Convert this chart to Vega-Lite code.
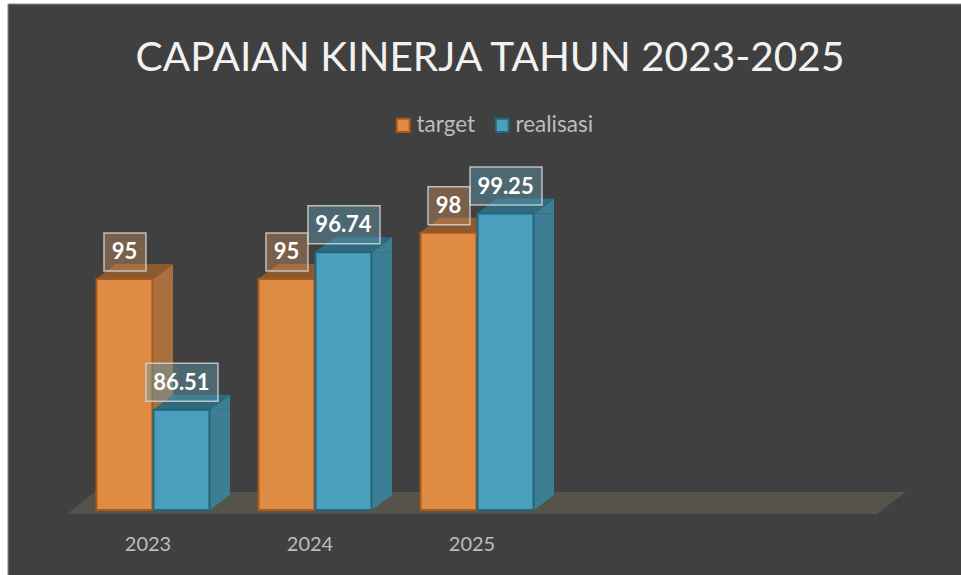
{
"$schema":"https://vega.github.io/schema/vega-lite/v6.json",
"width":810,"height":308,
"autosize":{"type":"none"},
"padding":{"left":72,"top":202,"right":79,"bottom":65},
"background":"white",
"title":{"text":"CAPAIAN KINERJA TAHUN 2023-2025","font":"Lato","fontSize":40.6,"fontWeight":"normal","color":"#f2f2f2","anchor":"middle","frame":"group","dx":13,"offset":-110,"baseline":"alphabetic","zindex":2},
"config":{"view":{"stroke":null},"font":"Lato"},
"layer":[
{"data":{"values":[{"part":"panel"}]},
 "mark":{"type":"point","filled":true,"opacity":1,"size":4,"fill":"#404040","stroke":"#8c8c8c","strokeWidth":1,"shape":"M-145 -506L809 -506L809 66L-145 66Z"},
 "encoding":{"x":{"datum":"2023","type":"nominal","scale":{"type":"band","domain":["2023","2024","2025","2026","2027"],"paddingInner":0.2963,"paddingOuter":0.148},
   "axis":{"values":["2023","2024","2025"],"title":null,"domain":false,"ticks":false,"grid":false,"zindex":2,"labelAngle":0,"labelPadding":24,"labelOffset":-5,"labelFont":"Lato","labelFontSize":20,"labelColor":"#bdbdbd"}},
 "y":{"datum":80,"type":"quantitative","scale":{"domain":[80,100],"nice":false,"zero":false},"axis":null}}},
{"data":{"values":[{"part":"floor"}]},
 "mark":{"type":"point","filled":true,"opacity":1,"size":4,"fill":"#56534b","shape":"M-86 4L724 4L753 -18L-58 -18Z"},
 "encoding":{"x":{"datum":"2023","type":"nominal","scale":{"type":"band","domain":["2023","2024","2025","2026","2027"],"paddingInner":0.2963,"paddingOuter":0.148}},
 "y":{"datum":80,"type":"quantitative","scale":{"domain":[80,100],"nice":false,"zero":false},"axis":null}}},
{"data":{"values":[
{"year":"2023","series":"target","value":95},
{"year":"2023","series":"realisasi","value":86.51},
{"year":"2024","series":"target","value":95},
{"year":"2024","series":"realisasi","value":96.74},
{"year":"2025","series":"target","value":98},
{"year":"2025","series":"realisasi","value":99.25}]},
 "encoding":{
 "x":{"field":"year","type":"nominal","title":null,"scale":{"type":"band","domain":["2023","2024","2025","2026","2027"],"paddingInner":0.2963,"paddingOuter":0.148}},
 "xOffset":{"field":"series","type":"nominal","scale":{"domain":["target","realisasi"],"paddingInner":0,"paddingOuter":0}},
 "y":{"field":"value","type":"quantitative","title":null,"scale":{"domain":[80,100],"nice":false,"zero":false},"axis":null}},
 "layer":[
 {"transform":[{"filter":"datum.series==='target'"}],"mark":{"type":"rule","strokeWidth":20,"color":"#a96f3e"},
  "encoding":{"y2":{"datum":80.97},"xOffset":{"value":67}}},
 {"transform":[{"filter":"datum.series==='realisasi'"}],"mark":{"type":"rule","strokeWidth":20,"color":"#3c7f95"},
  "encoding":{"y2":{"datum":80.97},"xOffset":{"value":124}}},
 {"mark":{"type":"point","filled":true,"opacity":1,"size":4,"shape":"M28.5 0L48.5 -15L48.5 0Z"},
  "encoding":{"fill":{"condition":{"test":"datum.series==='target'","value":"#a96f3e"},"value":"#3c7f95"}}},
 {"mark":{"type":"point","filled":true,"opacity":1,"size":4,"shape":"M28.5 0L48.5 -15L28.5 -15Z"},
  "encoding":{"y":{"datum":80,"type":"quantitative"},"fill":{"condition":{"test":"datum.series==='target'","value":"#a96f3e"},"value":"#3c7f95"}}},
 {"mark":{"type":"point","filled":true,"opacity":1,"size":4,"shape":"M-28.5 0L-8.5 -15L48.5 -15L28.5 0Z"},
  "encoding":{"fill":{"condition":{"test":"datum.series==='target'","value":"#8c5a2f"},"value":"#2f6a7e"}}},
 {"mark":{"type":"bar","size":56,"strokeWidth":2},
  "encoding":{"y2":{"datum":80},
   "fill":{"field":"series","type":"nominal","title":null,"scale":{"domain":["target","realisasi"],"range":["#e08b43","#4a9fbc"]},
     "legend":{"orient":"none","legendX":320,"legendY":-88,"direction":"horizontal","symbolType":"square","symbolSize":170,"symbolStrokeWidth":2,"labelFont":"Lato","labelFontSize":22.5,"labelColor":"#bdbdbd","labelOffset":2,"columnPadding":15,"title":null}},
   "stroke":{"field":"series","type":"nominal","title":null,"scale":{"domain":["target","realisasi"],"range":["#a85a1c","#24657a"]}}}},
 {"transform":[{"filter":{"field":"value","oneOf":[95,98]}}],
  "mark":{"type":"point","filled":true,"opacity":1,"size":4,"fillOpacity":0.42,"strokeWidth":1.5,"strokeOpacity":0.8,"shape":"M-20.5 -46L21.5 -46L21.5 -8L-20.5 -8Z"},
  "encoding":{"fill":{"value":"#c98d5c"},"stroke":{"value":"#d9d9d9"}}},
 {"transform":[{"filter":{"not":{"field":"value","oneOf":[95,98]}}}],
  "mark":{"type":"point","filled":true,"opacity":1,"size":4,"fillOpacity":0.42,"strokeWidth":1.5,"strokeOpacity":0.8,"shape":"M-35.5 -46.5L36.5 -46.5L36.5 -8.5L-35.5 -8.5Z"},
  "encoding":{"fill":{"value":"#5f9fb6"},"stroke":{"value":"#d9d9d9"}}},
 {"mark":{"type":"text","font":"Lato","fontWeight":"bold","fontSize":22,"color":"#ffffff","yOffset":-27,"baseline":"middle","align":"center"},
  "encoding":{"text":{"field":"value","type":"nominal"}}}
 ]}
]}
